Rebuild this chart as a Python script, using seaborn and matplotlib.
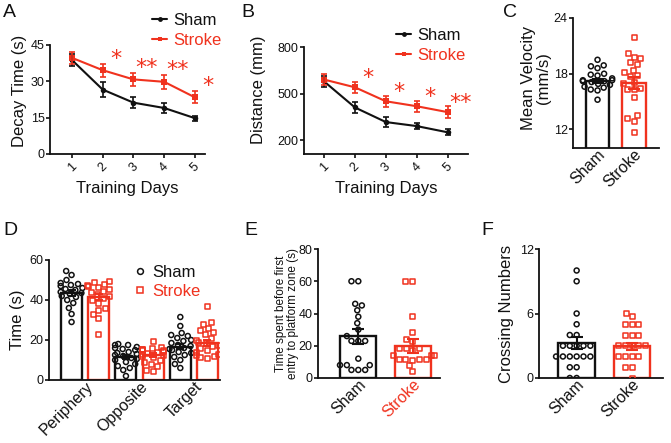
import numpy as np
import pandas as pd
import matplotlib
matplotlib.use('Agg')
import matplotlib.pyplot as plt
from matplotlib.lines import Line2D
import matplotlib.transforms as mtrans
import seaborn as sns

# ---------------- data ----------------
days = [1, 2, 3, 4, 5]
decay_sham = [38.8, 26.6, 21.2, 19.0, 14.8]
decay_sham_sem = [2.3, 3.0, 2.4, 1.9, 1.0]
decay_stroke = [39.7, 34.6, 30.8, 29.8, 23.4]
decay_stroke_sem = [2.5, 2.7, 2.8, 2.9, 2.5]
decay_sig = ['', '*', '**', '**', '*']

dist_sham = [578, 410, 316, 290, 250]
dist_sham_sem = [38, 35, 32, 22, 20]
dist_stroke = [590, 540, 450, 418, 380]
dist_stroke_sem = [38, 35, 35, 35, 40]
dist_sig = ['', '*', '*', '*', '**']

groups = ['Sham', 'Stroke']

vel_sham = [19.5, 18.9, 18.8, 18.6, 18.0, 17.9, 17.8, 17.5, 17.3, 17.3,
            17.2, 17.2, 17.1, 16.9, 16.8, 16.6, 16.5, 16.3, 16.2, 15.2]
vel_stroke = [21.9, 20.2, 19.8, 19.6, 19.2, 19.0, 18.4, 18.1, 17.8, 17.7,
              17.1, 16.9, 16.4, 16.3, 16.3, 15.4, 13.5, 13.2, 12.9, 11.7]
vel_mean = [17.2, 17.0]
vel_sem = [0.25, 0.6]

zones = ['Periphery', 'Opposite', 'Target']
zone_sham_mean = [43.6, 11.7, 16.7]
zone_stroke_mean = [41.3, 12.4, 18.7]
zone_sham_sem = [1.4, 1.0, 1.4]
zone_stroke_sem = [1.5, 0.9, 1.5]
periphery_sham = [54.5, 52.5, 50, 48.5, 48, 47.5, 47, 46, 45.5, 45, 44, 43.5,
                  43, 42, 41.5, 40, 38.5, 36, 33, 29]
periphery_stroke = [49.5, 49, 48, 47.5, 47, 46.5, 45.5, 44.5, 44, 43, 42, 41,
                    40, 38.5, 36, 35, 33, 31, 23]
opposite_sham = [18, 17.5, 17.5, 16.5, 16, 15.5, 15, 14, 13.5, 13, 12.5, 12,
                 11, 10.5, 10, 9, 8, 7, 6, 5, 2]
opposite_stroke = [19.5, 16.5, 16, 15.5, 15.5, 15, 15, 14.5, 14, 13.5, 13,
                   12.5, 12, 11.5, 10, 9, 8, 7, 5, 4.5]
target_sham = [31.5, 27, 23.5, 22.5, 22, 21, 20, 19.5, 18.5, 17.5, 17, 16,
               15.5, 15, 14, 13.5, 12.5, 11.5, 10, 8, 6]
target_stroke = [37, 29, 28, 26, 25, 24, 23, 21, 20, 19, 18.5, 17.5, 17, 16,
                 15, 14, 13, 12.5, 12, 11.5, 11]

latency_sham = [60, 60, 46, 45, 42, 38, 34, 30, 26, 23, 23, 23, 12,
                8, 8, 8, 5, 5, 5]
latency_stroke = [60, 60, 38, 28, 24, 22.5, 18.5, 18.5, 18.5, 17, 14, 14, 14,
                  11.5, 11.5, 11.5, 11.5, 11, 7.5, 4]
latency_mean = [25.8, 20.0]
latency_sem = [4.6, 4.2]

cross_sham = [10, 9, 6, 5, 4, 4, 3, 3, 3, 3, 3, 2, 2, 2, 2, 2, 2, 1, 1, 0, 0]
cross_stroke = [6, 5.7, 5, 5, 5, 4, 4, 4, 3, 3, 3, 3, 3, 2, 2, 2, 2, 1, 1, 0]
cross_mean = [3.26, 2.94]
cross_sem = [0.6, 0.35]

# ---------------- style ----------------
BLACK = '#111111'
RED = '#F0321E'
COLORS = [BLACK, RED]

sns.set_style('ticks')
plt.rcParams['font.family'] = ['Liberation Sans', 'DejaVu Sans']
plt.rcParams['axes.linewidth'] = 1.3

W, H = 671, 443
fig = plt.figure(figsize=(W / 100, H / 100), dpi=100)


def add_ax(l, t, r, b):
    return fig.add_axes([l / W, 1 - b / H, (r - l) / W, (b - t) / H])


def style(ax):
    sns.despine(ax=ax)
    ax.spines['left'].set_color(BLACK)
    ax.spines['bottom'].set_color(BLACK)
    ax.tick_params(axis='y', length=2.8, width=1.2, labelsize=9, pad=1,
                   colors=BLACK)
    ax.tick_params(axis='x', length=0, labelsize=11.5, pad=3, colors=BLACK)


def letter(x, y, s):
    fig.text(x / W, 1 - y / H, s, fontsize=14, ha='left', va='top',
             color=BLACK)


def cat_ticklabels(ax, labels, colors=None, dx=5):
    offset = mtrans.ScaledTranslation(dx / 100, 0, fig.dpi_scale_trans)
    for i, t in enumerate(ax.get_xticklabels()):
        t.set_rotation(45)
        t.set_ha('right')
        t.set_va('center')
        t.set_rotation_mode('anchor')
        t.set_fontsize(11.5)
        t.set_transform(t.get_transform() + offset)
        if colors is not None:
            t.set_color(colors[i])


def swarm_open(ax, df, x, order, color, marker):
    n = len(ax.collections)
    sns.swarmplot(data=df, x=x, y='value', order=order, color=color,
                  marker=marker, size=3.6, ax=ax, warn_thresh=1)
    for coll in ax.collections[n:]:
        coll.set_facecolor('none')
        coll.set_edgecolor(color)
        coll.set_linewidth(1.1)


def line_panel(ax, sham, sham_sem, stroke, stroke_sem, sig, star_dy,
               ylim, yticks, ylabel, ylab_y):
    sns.lineplot(x=days, y=sham, color=BLACK, marker='o', markersize=4,
                 markeredgewidth=0, linewidth=1.5, ax=ax)
    sns.lineplot(x=days, y=stroke, color=RED, marker='s', markersize=4,
                 markeredgewidth=0, linewidth=1.5, ax=ax)
    ax.errorbar(days, sham, yerr=sham_sem, fmt='none', ecolor=BLACK,
                capsize=2.5, elinewidth=1.2, capthick=1.2)
    ax.errorbar(days, stroke, yerr=stroke_sem, fmt='none', ecolor=RED,
                capsize=2.5, elinewidth=1.2, capthick=1.2)
    for d, m, s, t in zip(days, stroke, stroke_sem, sig):
        if t:
            ax.text(d + 0.42, m + s + star_dy, t, color=RED, fontsize=16,
                    family='DejaVu Sans', ha='center', va='center')
    ax.set_ylim(*ylim)
    ax.set_yticks(yticks)
    ax.set_xticks(days)
    ax.set_xticklabels([str(d) for d in days], rotation=45, ha='center',
                       fontsize=9)
    style(ax)
    ax.tick_params(axis='x', length=3.0, width=1.2, labelsize=9, pad=2)
    ax.set_xlabel('Training Days', fontsize=12, color=BLACK)
    ax.set_ylabel(ylabel, fontsize=12, color=BLACK)
    ax.xaxis.set_label_coords(0.5, -0.25)
    ax.yaxis.set_label_coords(ylab_y[0], ylab_y[1])


def line_legend(ax, x, y):
    handles = [Line2D([0], [0], color=BLACK, marker='o', markersize=3.5,
                      markeredgewidth=0, lw=1.5),
               Line2D([0], [0], color=RED, marker='s', markersize=3.5,
                      markeredgewidth=0, lw=1.5)]
    ax.legend(handles, groups, labelcolor=COLORS, frameon=False,
              handlelength=0.9, handletextpad=0.4, fontsize=12,
              loc='upper left', bbox_to_anchor=(x / W, 1 - y / H),
              bbox_transform=fig.transFigure, borderpad=0,
              borderaxespad=0, labelspacing=0.32)


def group_panel(ax, sham_pts, stroke_pts, means, sems, width, ylim, yticks,
                ylabel, xlim, tick_colors, ylab_xy, ylab_fs=12):
    bar_df = pd.DataFrame({'group': groups, 'value': means})
    sns.barplot(data=bar_df, x='group', y='value', hue='group', order=groups,
                hue_order=groups, palette=COLORS, fill=False, linewidth=1.7,
                width=width, errorbar=None, legend=False, ax=ax)
    for pts, col, mk, g in [(sham_pts, BLACK, 'o', 'Sham'),
                            (stroke_pts, RED, 's', 'Stroke')]:
        df = pd.DataFrame({'group': g, 'value': pts})
        swarm_open(ax, df, 'group', groups, col, mk)
    for i, (m, s) in enumerate(zip(means, sems)):
        ax.errorbar(i, m, yerr=s, fmt='none', ecolor=COLORS[i], capsize=4,
                    elinewidth=1.5, capthick=1.5, zorder=5)
    ax.set_ylim(*ylim)
    ax.set_yticks(yticks)
    ax.set_xlim(*xlim)
    style(ax)
    ax.set_xlabel('')
    ax.set_ylabel(ylabel, fontsize=ylab_fs, color=BLACK, linespacing=1.05)
    ax.yaxis.set_label_coords(*ylab_xy)
    cat_ticklabels(ax, groups, tick_colors)


# ---------------- A ----------------
axA = add_ax(50, 45, 205, 154)
line_panel(axA, decay_sham, decay_sham_sem, decay_stroke, decay_stroke_sem,
           decay_sig, 2.0, (0, 45), [0, 15, 30, 45], 'Decay Time (s)',
           (-0.15, 0.58))
axA.set_xlim(0.285, 5.33)
line_legend(axA, 152, 13)
letter(3, 4, 'A')

# ---------------- B ----------------
axB = add_ax(304, 47, 468, 154)
line_panel(axB, dist_sham, dist_sham_sem, dist_stroke, dist_stroke_sem,
           dist_sig, 22, (110, 800), [200, 500, 800], 'Distance (mm)',
           (-0.23, 0.6))
axB.set_xlim(0.35, 5.66)
line_legend(axB, 396, 28)
letter(241, 4, 'B')

# ---------------- C ----------------
axC = add_ax(573, 18, 659, 148)
group_panel(axC, vel_sham, vel_stroke, vel_mean, vel_sem, 0.64, (10, 24),
            [12, 18, 24], 'Mean Velocity\n(mm/s)', (-0.67, 1.68),
            [BLACK, BLACK], (-0.25, 0.54))
letter(503, 4, 'C')

# ---------------- D ----------------
axD = add_ax(49, 260, 220, 380)
cats6 = [f'{z} {g}' for z in zones for g in groups]
d_means = [v for pair in zip(zone_sham_mean, zone_stroke_mean) for v in pair]
d_sems = [v for pair in zip(zone_sham_sem, zone_stroke_sem) for v in pair]
d_groups = [g for z in zones for g in groups]
bar_df = pd.DataFrame({'cat': cats6, 'value': d_means, 'group': d_groups})
sns.barplot(data=bar_df, x='cat', y='value', hue='group', order=cats6,
            hue_order=groups, palette=COLORS, fill=False, linewidth=1.7,
            width=0.77, dodge=False, errorbar=None, legend=False, ax=axD)
zone_pts = {'Sham': [periphery_sham, opposite_sham, target_sham],
            'Stroke': [periphery_stroke, opposite_stroke, target_stroke]}
for g, col, mk in [('Sham', BLACK, 'o'), ('Stroke', RED, 's')]:
    rows = []
    for z, pts in zip(zones, zone_pts[g]):
        rows += [(f'{z} {g}', v) for v in pts]
    df = pd.DataFrame(rows, columns=['cat', 'value'])
    swarm_open(axD, df, 'cat', cats6, col, mk)
for i, (m, s) in enumerate(zip(d_means, d_sems)):
    axD.errorbar(i, m, yerr=s, fmt='none', ecolor=COLORS[i % 2], capsize=3,
                 elinewidth=1.4, capthick=1.4, zorder=5)
axD.set_ylim(0, 60)
axD.set_yticks([0, 20, 40, 60])
axD.set_xlim(-0.83, 5.46)
style(axD)
axD.set_xticks([2 * i + 0.5 for i in range(len(zones))])
axD.set_xticklabels(zones)
cat_ticklabels(axD, zones, dx=6)
axD.set_xlabel('')
axD.set_ylabel('Time (s)', fontsize=12, color=BLACK)
axD.yaxis.set_label_coords(-0.14, 0.5)
d_handles = [Line2D([0], [0], ls='none', marker='o', markersize=4.2,
                    markerfacecolor='none', markeredgecolor=BLACK,
                    markeredgewidth=1.1),
             Line2D([0], [0], ls='none', marker='s', markersize=4.2,
                    markerfacecolor='none', markeredgecolor=RED,
                    markeredgewidth=1.1)]
axD.legend(d_handles, groups, labelcolor=COLORS, frameon=False,
           handlelength=0.8, handletextpad=0.35, fontsize=12,
           loc='upper left', bbox_to_anchor=(133 / W, 1 - 265 / H),
           bbox_transform=fig.transFigure, borderpad=0, borderaxespad=0,
           labelspacing=0.25)
letter(3, 222, 'D')

# ---------------- E ----------------
axE = add_ax(318, 249, 440, 378)
group_panel(axE, latency_sham, latency_stroke, latency_mean, latency_sem,
            0.66, (0, 80), [0, 20, 40, 60, 80],
            'Time spent before first\nentry to platform zone (s)',
            (-0.74, 1.5), [BLACK, RED], (-0.155, 0.5), ylab_fs=8.5)
letter(244, 222, 'E')

# ---------------- F ----------------
axF = add_ax(539, 249, 663, 378)
group_panel(axF, cross_sham, cross_stroke, cross_mean, cross_sem, 0.66,
            (0, 12), [0, 6, 12], 'Crossing Numbers', (-0.68, 1.56),
            [BLACK, BLACK], (-0.2, 0.5))
letter(481, 222, 'F')

fig.savefig('out.png', dpi=100)
